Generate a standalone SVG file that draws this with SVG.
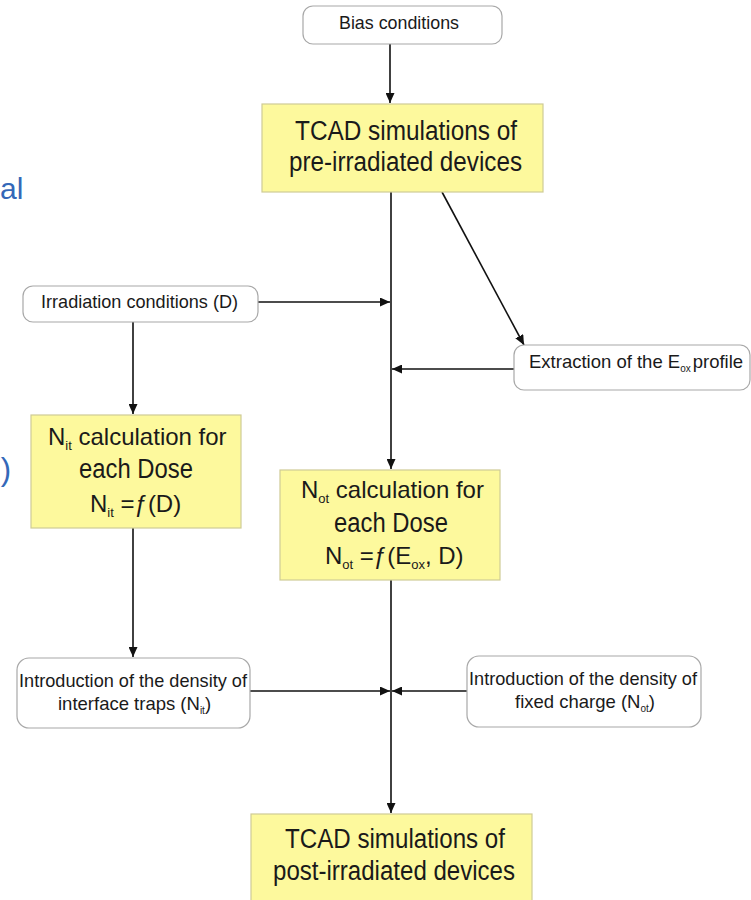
<svg xmlns="http://www.w3.org/2000/svg" width="751" height="900" viewBox="0 0 751 900">
<style>
  text { font-family: "Liberation Sans", Arial, sans-serif; fill: #1a1a1a; }
  .small { font-size: 19px; }
  .sub { font-size: 18.5px; }
  .big { font-size: 27px; }
  .mid { font-size: 24px; }
  .round { fill: #ffffff; stroke: #a8a8a8; stroke-width: 1.2; }
  .yellow { fill: #fdf99d; stroke: #cfcb96; stroke-width: 1.2; }
  .conn { fill: none; stroke: #111; stroke-width: 1.6; }
  .blue { fill: #3468b8; font-size: 30px; }
</style>
<defs>
  <marker id="arr" markerUnits="userSpaceOnUse" markerWidth="11" markerHeight="9" refX="10" refY="4.5" orient="auto">
    <path d="M0,0 L10,4.5 L0,9 z" fill="#111"/>
  </marker>
</defs>
<rect width="751" height="900" fill="#ffffff"/>

<!-- cropped slide text fragments -->
<text class="blue" x="0" y="199">al</text>
<text class="blue" x="11" y="480" text-anchor="end" style="font-size:31px">)</text>

<g id="connectors">
  <line class="conn" x1="390" y1="44" x2="390" y2="103" marker-end="url(#arr)"/>
  <line class="conn" x1="391" y1="192" x2="391" y2="469" marker-end="url(#arr)"/>
  <line class="conn" x1="442" y1="192" x2="524" y2="345" marker-end="url(#arr)"/>
  <line class="conn" x1="258" y1="302" x2="390" y2="302" marker-end="url(#arr)"/>
  <line class="conn" x1="514" y1="369" x2="392" y2="369" marker-end="url(#arr)"/>
  <line class="conn" x1="133" y1="322" x2="133" y2="414" marker-end="url(#arr)"/>
  <line class="conn" x1="133" y1="528" x2="133" y2="657" marker-end="url(#arr)"/>
  <line class="conn" x1="250" y1="691" x2="390" y2="691" marker-end="url(#arr)"/>
  <line class="conn" x1="467" y1="691" x2="392" y2="691" marker-end="url(#arr)"/>
  <line class="conn" x1="391" y1="580" x2="391" y2="813" marker-end="url(#arr)"/>
</g>

<g id="bias">
  <rect class="round" x="303" y="6" width="199" height="38" rx="10"/>
  <text class="small" x="339" y="29" textLength="120" lengthAdjust="spacingAndGlyphs">Bias conditions</text>
</g>

<g id="tcad-pre">
  <rect class="yellow" x="262" y="104" width="281" height="88"/>
  <text class="big" x="295" y="140" textLength="222" lengthAdjust="spacingAndGlyphs">TCAD simulations of</text>
  <text class="big" x="289" y="171" textLength="233" lengthAdjust="spacingAndGlyphs">pre-irradiated devices</text>
</g>

<g id="irradiation">
  <rect class="round" x="23" y="286" width="235" height="36" rx="10"/>
  <text class="small" x="41" y="308" textLength="197" lengthAdjust="spacingAndGlyphs">Irradiation conditions (D)</text>
</g>

<g id="extraction">
  <rect class="round" x="514" y="345" width="236" height="45" rx="10"/>
  <text class="sub" x="529" y="368">Extraction of the E<tspan font-size="10" dy="4">ox</tspan><tspan dy="-4" dx="2">profile</tspan></text>
</g>

<g id="nit-calc">
  <rect class="yellow" x="31" y="415" width="210" height="113"/>
  <text class="mid" x="48" y="445">N<tspan font-size="13" dy="5">it</tspan><tspan dy="-5"> calculation for</tspan></text>
  <text class="big" x="79" y="478" textLength="114" lengthAdjust="spacingAndGlyphs">each Dose</text>
  <text class="mid" x="90" y="512">N<tspan font-size="13" dy="5">it</tspan><tspan dy="-5"> =ƒ(D)</tspan></text>
</g>

<g id="not-calc">
  <rect class="yellow" x="280" y="470" width="220" height="110"/>
  <text class="mid" x="301" y="498">N<tspan font-size="13" dy="5">ot</tspan><tspan dy="-5"> calculation for</tspan></text>
  <text class="big" x="334" y="532" textLength="114" lengthAdjust="spacingAndGlyphs">each Dose</text>
  <text class="mid" x="325" y="564">N<tspan font-size="13" dy="5">ot</tspan><tspan dy="-5"> =ƒ(E</tspan><tspan font-size="13" dy="5">ox</tspan><tspan dy="-5">, D)</tspan></text>
</g>

<g id="intro-nit">
  <rect class="round" x="17" y="658" width="233" height="70" rx="12"/>
  <text class="small" x="19" y="687" textLength="228" lengthAdjust="spacingAndGlyphs">Introduction of the density of</text>
  <text class="sub" x="58" y="710">interface traps (N<tspan font-size="10" dy="4">it</tspan><tspan dy="-4">)</tspan></text>
</g>

<g id="intro-not">
  <rect class="round" x="467" y="656" width="234" height="71" rx="12"/>
  <text class="small" x="469" y="685" textLength="228" lengthAdjust="spacingAndGlyphs">Introduction of the density of</text>
  <text class="sub" x="515" y="708">fixed charge (N<tspan font-size="10" dy="4">ot</tspan><tspan dy="-4">)</tspan></text>
</g>

<g id="tcad-post">
  <rect class="yellow" x="251" y="814" width="281" height="92"/>
  <text class="big" x="285" y="848" textLength="220" lengthAdjust="spacingAndGlyphs">TCAD simulations of</text>
  <text class="big" x="273" y="880" textLength="242" lengthAdjust="spacingAndGlyphs">post-irradiated devices</text>
</g>
</svg>
